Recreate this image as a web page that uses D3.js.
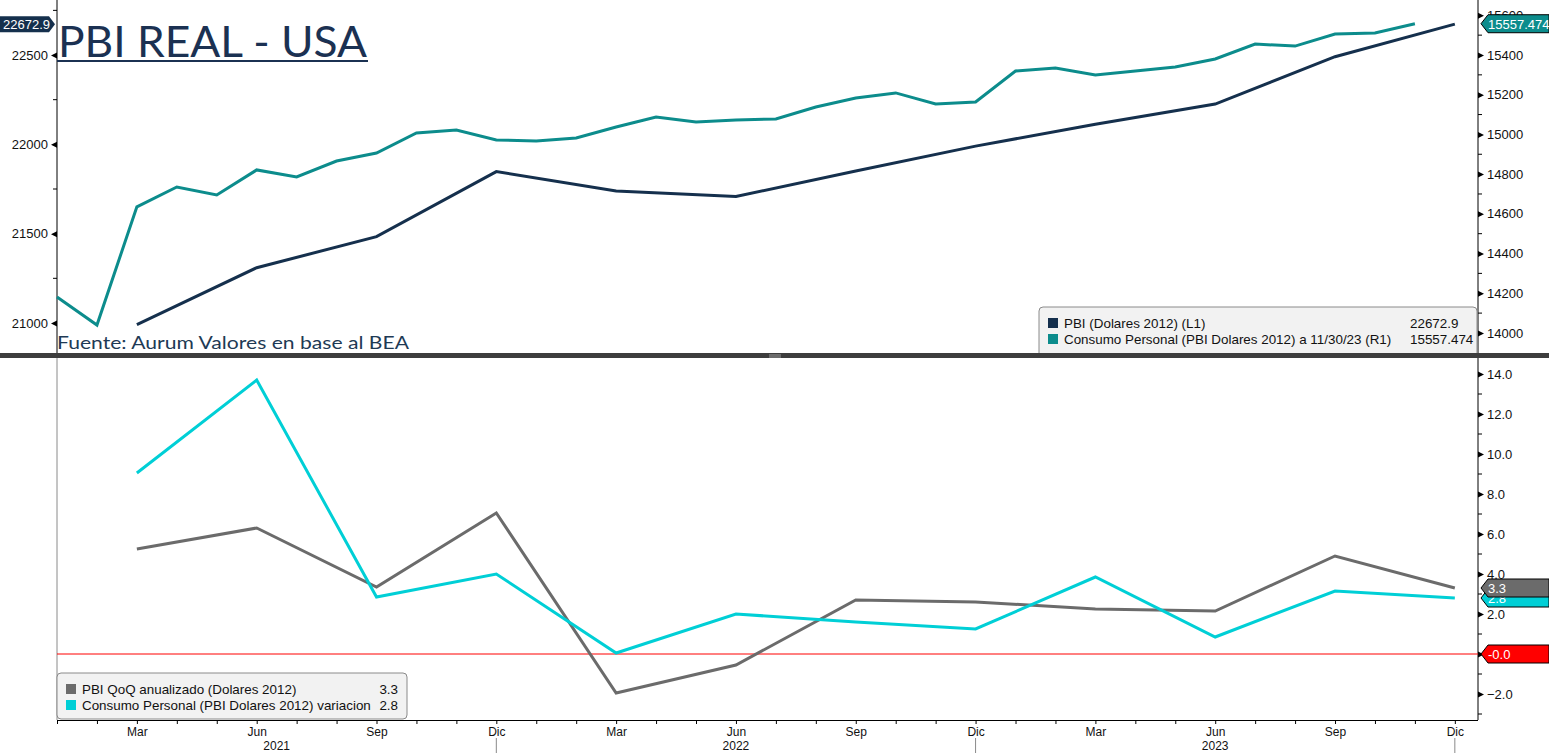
<!DOCTYPE html>
<html>
<head>
<meta charset="utf-8">
<script src="https://cdn.jsdelivr.net/npm/d3@7"></script>
<style>
body { margin: 0; background: #fff; overflow: hidden; }
svg text { font-family: "Liberation Sans", Arial, sans-serif; }
</style>
</head>
<body>
<div id="chart"></div>
<script>
// quarterly GDP (end-of-quarter month)
const pbiDates = ["2021-03", "2021-06", "2021-09", "2021-12", "2022-03", "2022-06",
    "2022-09", "2022-12", "2023-03", "2023-06", "2023-09", "2023-12"];
const pbiValues = [20990.5, 21309.5, 21483.1, 21847.6, 21738.9, 21708.2,
    21851.1, 21990.0, 22112.3, 22225.4, 22490.7, 22672.9];

// monthly personal consumption
const consumoDates = ["2021-01", "2021-02", "2021-03", "2021-04", "2021-05", "2021-06",
    "2021-07", "2021-08", "2021-09", "2021-10", "2021-11", "2021-12",
    "2022-01", "2022-02", "2022-03", "2022-04", "2022-05", "2022-06",
    "2022-07", "2022-08", "2022-09", "2022-10", "2022-11", "2022-12",
    "2023-01", "2023-02", "2023-03", "2023-04", "2023-05", "2023-06",
    "2023-07", "2023-08", "2023-09", "2023-10", "2023-11"];
const consumoValues = [14181, 14040, 14635, 14735, 14695, 14821,
    14786, 14866, 14906, 15007, 15022, 14972,
    14967, 14982, 15037, 15088, 15063, 15073,
    15078, 15138, 15183, 15209, 15153, 15163,
    15319, 15335, 15299, 15319, 15340, 15380,
    15455, 15445, 15506, 15511, 15557.474];

// quarterly variations (annualized)
const pbiQoQ = [5.25, 6.3, 3.35, 7.05, -1.95, -0.55, 2.7, 2.6, 2.25, 2.15, 4.9, 3.3];
const consumoQoQ = [9.05, 13.7, 2.85, 4.0, 0.05, 2.0, 1.6, 1.25, 3.85, 0.85, 3.15, 2.8];

const monthNames = ["Ene", "Feb", "Mar", "Abr", "May", "Jun", "Jul", "Ago", "Sep", "Oct", "Nov", "Dic"];
const yearLabels = ["2021", "2022", "2023"];

const navy = '#15304d';
const teal = '#0c8c8c';
const gray = '#6b6b6b';
const cyan = '#00cfd6';

const W = 1549, H = 753;
const left = 57, right = 1478;
const top1 = 0, bottom1 = 353;
const top2 = 358, bottom2 = 720;

function monthIndex(s) {
    const p = s.split('-');
    return (+p[0] - 2021) * 12 + (+p[1] - 1);
}

const svg = d3.select('#chart').append('svg')
    .attr('width', W)
    .attr('height', H);

const x = d3.scaleLinear().domain([0, 35.58]).range([left, right]);

// top panel scales
const yL = d3.scaleLinear().domain([20832, 22808]).range([bottom1, top1]);
const yR = d3.scaleLinear().domain([13899, 15677]).range([bottom1, top1]);
// bottom panel scale
const y2 = d3.scaleLinear().domain([-3.3, 14.8]).range([bottom2, top2]);

const pbi = pbiDates.map((d, i) => ({m: monthIndex(d), v: pbiValues[i]}));
const consumo = consumoDates.map((d, i) => ({m: monthIndex(d), v: consumoValues[i]}));
const qoqPbi = pbiDates.map((d, i) => ({m: monthIndex(d), v: pbiQoQ[i]}));
const qoqCons = pbiDates.map((d, i) => ({m: monthIndex(d), v: consumoQoQ[i]}));

// ---------- axes helper ----------
function valueAxis(scale, side, xPos, majors, minors, fmt) {
    const g = svg.append('g').attr('transform', `translate(${xPos},0)`);
    const ax = side === 'left' ? d3.axisLeft(scale) : d3.axisRight(scale);
    g.call(ax.tickValues(majors).tickSize(0).tickPadding(9).tickSizeOuter(0).tickFormat(fmt));
    g.select('.domain').remove();
    g.selectAll('text').style('font-size', '13px').attr('fill', '#111');
    const dir = side === 'left' ? -1 : 1;
    g.selectAll('.tick').append('path')
        .attr('d', `M0,-3L${dir * 6},0L0,3Z`)
        .attr('fill', '#000');
    g.selectAll('.minor')
        .data(minors)
        .enter()
        .append('line')
        .attr('x1', 0).attr('x2', dir * 4)
        .attr('y1', d => scale(d)).attr('y2', d => scale(d))
        .attr('stroke', '#000');
    return g;
}

// ---------- top panel ----------
svg.append('line')
    .attr('x1', left).attr('x2', left).attr('y1', top1).attr('y2', bottom1)
    .attr('stroke', '#000');
svg.append('line')
    .attr('x1', right).attr('x2', right).attr('y1', top1).attr('y2', bottom1)
    .attr('stroke', '#000');

valueAxis(yL, 'left', left, [21000, 21500, 22000, 22500], [21250, 21750, 22250, 22750], d3.format('d'));
valueAxis(yR, 'right', right, d3.range(14000, 15601, 200), d3.range(14100, 15600, 200), d3.format('d'));

const lineL = d3.line().x(d => x(d.m)).y(d => yL(d.v));
const lineR = d3.line().x(d => x(d.m)).y(d => yR(d.v));

svg.append('path')
    .datum(consumo)
    .attr('d', lineR)
    .attr('fill', 'none')
    .attr('stroke', teal)
    .attr('stroke-width', 3);

svg.append('path')
    .datum(pbi)
    .attr('d', lineL)
    .attr('fill', 'none')
    .attr('stroke', navy)
    .attr('stroke-width', 3);

// title
svg.append('text')
    .attr('x', 58).attr('y', 57)
    .attr('textLength', 309)
    .attr('lengthAdjust', 'spacingAndGlyphs')
    .style('font-family', 'Lato, "Noto Sans", sans-serif')
    .style('font-size', '42px')
    .attr('fill', '#1b3152')
    .text('PBI REAL - USA');
svg.append('rect')
    .attr('x', 57).attr('y', 60).attr('width', 311).attr('height', 2)
    .attr('fill', '#1b3152');

svg.append('text')
    .attr('x', 57).attr('y', 349)
    .attr('textLength', 352)
    .attr('lengthAdjust', 'spacingAndGlyphs')
    .style('font-family', 'Lato, "Noto Sans", sans-serif')
    .style('font-size', '18px')
    .attr('fill', '#1e3a55')
    .text('Fuente: Aurum Valores en base al BEA');

// legend boxes
function legend(x0, y0, w, h, rows, valX, anchor) {
    const g = svg.append('g');
    g.append('rect')
        .attr('x', x0).attr('y', y0).attr('width', w).attr('height', h)
        .attr('rx', 4)
        .attr('fill', '#f2f2f2')
        .attr('stroke', '#8a8a8a');
    rows.forEach((r, i) => {
        const cy = y0 + 16 + i * 16;
        g.append('rect')
            .attr('x', x0 + 9).attr('y', cy - 5).attr('width', 10).attr('height', 10)
            .attr('fill', r.color);
        g.append('text')
            .attr('x', x0 + 25).attr('y', cy + 5)
            .style('font-size', '13.4px').attr('fill', '#111')
            .text(r.label);
        g.append('text')
            .attr('x', valX).attr('y', cy + 5)
            .attr('text-anchor', anchor)
            .style('font-size', '13.4px').attr('fill', '#111')
            .text(r.value);
    });
}

legend(1039, 307, 438, 50, [
    {color: navy, label: 'PBI (Dolares 2012) (L1)', value: '22672.9'},
    {color: teal, label: 'Consumo Personal (PBI Dolares 2012) a 11/30/23 (R1)', value: '15557.474'}
], 1410, 'start');

// value tags
function tag(side, yPos, color, text) {
    const g = svg.append('g');
    if (side === 'right') {
        g.append('path')
            .attr('d', `M${right + 3},${yPos}L${right + 10},${yPos - 9}L${W},${yPos - 9}L${W},${yPos + 9}L${right + 10},${yPos + 9}Z`)
            .attr('fill', color).attr('stroke', '#000').attr('stroke-width', 1);
        g.append('text')
            .attr('x', right + 10).attr('y', yPos + 5)
            .style('font-size', '13px').attr('fill', '#fff')
            .text(text);
    } else {
        g.append('path')
            .attr('d', `M0,${yPos - 8}L49,${yPos - 8}L55,${yPos}L49,${yPos + 8}L0,${yPos + 8}Z`)
            .attr('fill', color);
        g.append('text')
            .attr('x', 3).attr('y', yPos + 5)
            .style('font-size', '13px').attr('fill', '#fff')
            .text(text);
    }
}

tag('left', yL(pbiValues[pbiValues.length - 1]), navy, '22672.9');
tag('right', yR(consumoValues[consumoValues.length - 1]), teal, '15557.474');

// ---------- divider ----------
svg.append('rect')
    .attr('x', 0).attr('y', bottom1).attr('width', W).attr('height', top2 - bottom1)
    .attr('fill', '#3d3d3d');
[355, 357].forEach(yy => {
    svg.append('line')
        .attr('x1', 769).attr('x2', 781).attr('y1', yy).attr('y2', yy)
        .attr('stroke', '#9a9a9a');
});

// ---------- bottom panel ----------
svg.append('line')
    .attr('x1', left).attr('x2', left).attr('y1', top2).attr('y2', bottom2)
    .attr('stroke', '#8a8a8a');
svg.append('line')
    .attr('x1', right).attr('x2', right).attr('y1', top2).attr('y2', bottom2)
    .attr('stroke', '#000');

// the 0 label sits under the red tag, so it is left blank
valueAxis(y2, 'right', right, d3.range(-2, 14.1, 2), d3.range(-3, 14, 2),
    d => (d === 0 ? '' : d3.format('.1f')(d)));

// zero line
svg.append('line')
    .attr('x1', left).attr('x2', right)
    .attr('y1', y2(0)).attr('y2', y2(0))
    .attr('stroke', '#ff0000');

const line2 = d3.line().x(d => x(d.m)).y(d => y2(d.v));

svg.append('path')
    .datum(qoqPbi)
    .attr('d', line2)
    .attr('fill', 'none')
    .attr('stroke', gray)
    .attr('stroke-width', 3);

svg.append('path')
    .datum(qoqCons)
    .attr('d', line2)
    .attr('fill', 'none')
    .attr('stroke', cyan)
    .attr('stroke-width', 3);

tag('right', y2(consumoQoQ[consumoQoQ.length - 1]), cyan, '2.8');
tag('right', y2(pbiQoQ[pbiQoQ.length - 1]), gray, '3.3');
tag('right', y2(0), '#ff0000', '-0.0');

legend(57, 673, 350, 46, [
    {color: gray, label: 'PBI QoQ anualizado (Dolares 2012)', value: '3.3'},
    {color: cyan, label: 'Consumo Personal (PBI Dolares 2012) variacion', value: '2.8'}
], 398, 'end');

// x axis
const xg = svg.append('g').attr('transform', `translate(0,${bottom2})`);
xg.call(d3.axisBottom(x)
    .tickValues(d3.range(0, 36))
    .tickSize(4)
    .tickSizeOuter(0)
    .tickPadding(3)
    .tickFormat(i => (i % 3 === 2 ? monthNames[i % 12] : '')));
xg.select('.domain').attr('d', `M${left},0.5H${right}`).attr('stroke', '#000');
xg.selectAll('text').style('font-size', '12px').attr('fill', '#111');

// year separators and labels
[11, 23, 35].forEach(m => {
    svg.append('line')
        .attr('x1', x(m)).attr('x2', x(m))
        .attr('y1', 738).attr('y2', H)
        .attr('stroke', '#8a8a8a');
});
yearLabels.forEach((yr, i) => {
    const a = i === 0 ? 0 : 11 + (i - 1) * 12;
    const b = 11 + i * 12;
    svg.append('text')
        .attr('x', x((a + b) / 2)).attr('y', 750)
        .attr('text-anchor', 'middle')
        .style('font-size', '12px').attr('fill', '#111')
        .text(yr);
});
</script>
</body>
</html>
